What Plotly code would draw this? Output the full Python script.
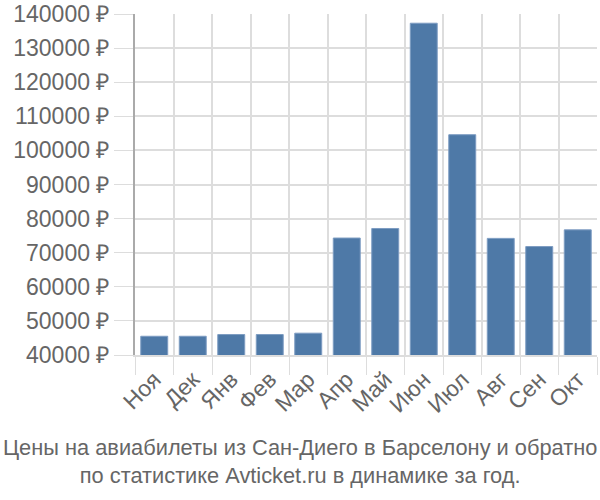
import plotly.graph_objects as go

months = ["Ноя", "Дек", "Янв", "Фев", "Мар", "Апр", "Май", "Июн", "Июл", "Авг", "Сен", "Окт"]
prices = [45500, 45500, 46000, 46000, 46400, 74300, 77100, 137300, 104600, 74200, 71800, 76700]
y_ticks = list(range(40000, 140001, 10000))
y_tick_labels = [f"{v} ₽" for v in y_ticks]
title_lines = ["Цены на авиабилеты из Сан-Диего в Барселону и обратно",
               "по статистике Avticket.ru в динамике за год."]

fig = go.Figure(go.Bar(
    x=months, y=prices, width=0.7,
    marker=dict(color="#4e79a7", line=dict(color="#7d9cc2", width=1)),
))

fig.update_layout(
    width=600, height=500,
    margin=dict(l=135, r=3, t=14, b=145, autoexpand=False),
    paper_bgcolor="white", plot_bgcolor="white",
    font=dict(family="Liberation Sans, Arial, sans-serif", color="#666666", size=22),
    showlegend=False,
)
fig.update_xaxes(
    tickangle=-45, tickson="boundaries", ticks="outside", ticklen=18, tickcolor="#dddddd",
    showgrid=True, gridcolor="#dddddd", gridwidth=2,
    showline=True, linecolor="#dddddd", linewidth=2,
    tickfont=dict(size=23, color="#666666"), automargin=False,
)
fig.update_yaxes(
    range=[40000, 140000], tickvals=y_ticks, ticktext=y_tick_labels,
    ticks="outside", ticklen=19, tickcolor="#dddddd",
    showgrid=True, gridcolor="#dddddd", gridwidth=2,
    showline=True, linecolor="#aaaaaa", linewidth=2,
    zeroline=False, automargin=False,
    tickfont=dict(size=23, color="#666666"),
)
fig.add_annotation(
    text="<br>".join(title_lines), xref="paper", yref="paper",
    x=0.5, xanchor="center", y=0, yanchor="top", yshift=-78,
    xshift=-66, showarrow=False, align="center",
    font=dict(size=21.8, color="#666666"),
)
fig.write_html(
    "out.html",
    config={"displayModeBar": False},
    post_script="document.body.style.margin='0';document.body.style.overflow='hidden';",
)
